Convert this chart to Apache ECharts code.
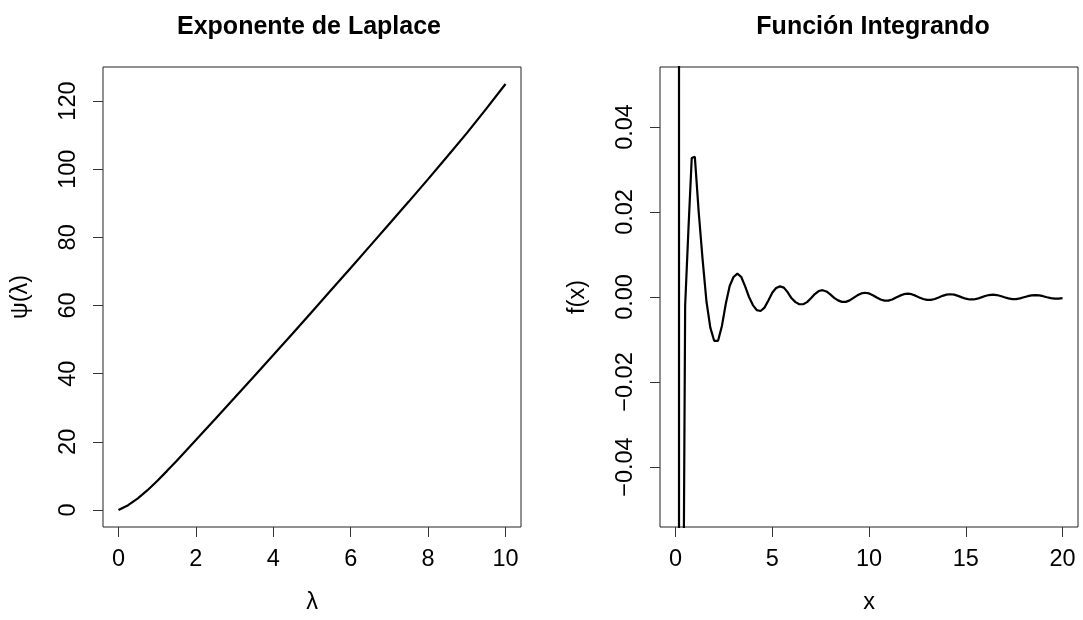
<!DOCTYPE html>
<html>
<head>
<meta charset="utf-8">
<script src="https://cdn.jsdelivr.net/npm/echarts@6/dist/echarts.min.js"></script>
<style>
  html, body { margin: 0; padding: 0; background: #ffffff; }
  #chart { width: 1083px; height: 620px; }
</style>
</head>
<body>
<div id="chart"></div>
<script>
// Laplace exponent psi(lambda)
const lambdaValues = [0, 0.25, 0.5, 0.75, 1, 1.25, 1.5, 2, 2.5, 3, 3.5, 4, 4.5, 5, 5.5, 6, 6.5, 7, 7.5, 8, 8.5, 9, 9.5, 10];
const psiValues    = [0, 1.4, 3.4, 5.8, 8.5, 11.4, 14.4, 20.5, 26.7, 32.9, 39.2, 45.5, 51.8, 58.2, 64.6, 71.0, 77.5, 84.0, 90.5, 97.1, 103.8, 110.6, 117.7, 125.0];

// Integrand f(x)
const xValues = [0.18, 0.185, 0.34, 0.5, 0.67, 0.84, 1.0,
  1.2, 1.4, 1.6, 1.8, 2.0, 2.2, 2.4, 2.6, 2.8, 3.0, 3.2, 3.4, 3.6, 3.8, 4.0,
  4.2, 4.4, 4.6, 4.8, 5.0, 5.2, 5.4, 5.6, 5.8, 6.0, 6.2, 6.4, 6.6, 6.8, 7.0,
  7.2, 7.4, 7.6, 7.8, 8.0, 8.2, 8.4, 8.6, 8.8, 9.0, 9.2, 9.4, 9.6, 9.8, 10.0,
  10.2, 10.4, 10.6, 10.8, 11.0, 11.2, 11.4, 11.6, 11.8, 12.0, 12.2, 12.4, 12.6, 12.8, 13.0,
  13.2, 13.4, 13.6, 13.8, 14.0, 14.2, 14.4, 14.6, 14.8, 15.0, 15.2, 15.4, 15.6, 15.8, 16.0,
  16.2, 16.4, 16.6, 16.8, 17.0, 17.2, 17.4, 17.6, 17.8, 18.0, 18.2, 18.4, 18.6, 18.8, 19.0,
  19.2, 19.4, 19.6, 19.8, 20.0];
const fValues = [0.6, -0.6, -0.13, -0.002, 0.016, 0.0327, 0.0330,
  0.0200, 0.0089, -0.0010, -0.0072, -0.0103, -0.0103, -0.0068, -0.0016, 0.0026, 0.0047, 0.0055, 0.0047, 0.0025, 0.0000, -0.0019,
  -0.0031, -0.0033, -0.0025, -0.0008, 0.0010, 0.0021, 0.0025, 0.0022, 0.0011, -0.0003, -0.0012, -0.0017, -0.0017, -0.0012, -0.0003,
  0.0007, 0.0014, 0.0016, 0.0013, 0.0006, -0.0002, -0.0008, -0.00115, -0.00115, -0.0008, -0.0002, 0.0004, 0.00084, 0.0010, 0.00084,
  0.0004, -0.00013, -0.0006, -0.00086, -0.00086, -0.0006, -0.00013, 0.00032, 0.00066, 0.00078, 0.00066, 0.00032, -0.0001, -0.00046, -0.00067,
  -0.00067, -0.00046, -0.0001, 0.00027, 0.00055, 0.00065, 0.00055, 0.00027, -0.00009, -0.0004, -0.00058, -0.00058, -0.0004, -0.00009, 0.00023,
  0.00046, 0.00055, 0.00046, 0.00023, -0.00007, -0.00033, -0.00048, -0.00048, -0.00033, -0.00007, 0.00019, 0.00038, 0.00045, 0.00038, 0.00019,
  -0.00006, -0.00026, -0.00038, -0.00038, -0.00026, -0.0001];

// Tick positions
const lambdaTicks = [0, 2, 4, 6, 8, 10];
const psiTicks = [0, 20, 40, 60, 80, 100, 120];
const xTicks = [0, 5, 10, 15, 20];
const fTicks = [-0.04, -0.02, 0, 0.02, 0.04];

const FONT = '"Liberation Sans", Arial, Helvetica, sans-serif';
const INK = '#000000';
const TICK_SIZE = 23.5;

function pairs(xs, ys) { return xs.map((x, i) => [x, ys[i]]); }

function fmtSigned(v) {
  if (Math.abs(v) < 1e-12) return '0.00';
  return (v < 0 ? '\u2212' : '') + Math.abs(v).toFixed(2);
}

function xAxisOf(gridIndex, min, max, ticks, name) {
  return {
    type: 'value', gridIndex, min, max,
    axisLine: { show: false, onZero: false },
    splitLine: { show: false },
    axisTick: { show: true, inside: false, length: 10, customValues: ticks, lineStyle: { color: '#333', width: 1 } },
    axisLabel: { customValues: ticks, margin: 21, color: INK, fontFamily: FONT, fontSize: TICK_SIZE },
    name, nameLocation: 'middle', nameGap: 64,
    nameTextStyle: { color: INK, fontFamily: FONT, fontSize: TICK_SIZE }
  };
}

function yAxisOf(gridIndex, min, max, ticks, name, fmt) {
  return {
    type: 'value', gridIndex, min, max,
    axisLine: { show: false, onZero: false },
    splitLine: { show: false },
    axisTick: { show: true, inside: false, length: 10, customValues: ticks, lineStyle: { color: '#333', width: 1 } },
    axisLabel: { customValues: ticks, margin: 22, rotate: 90, color: INK, fontFamily: FONT, fontSize: TICK_SIZE,
                 formatter: fmt || (v => String(v)) },
    name, nameLocation: 'middle', nameGap: 70,
    nameTextStyle: { color: INK, fontFamily: FONT, fontSize: TICK_SIZE }
  };
}

const chart = echarts.init(document.getElementById('chart'), null, { renderer: 'canvas' });
chart.setOption({
  animation: false,
  backgroundColor: '#ffffff',
  title: [
    { text: 'Exponente de Laplace', left: 304, top: 10, textAlign: 'center',
      textStyle: { fontFamily: FONT, fontSize: 25, fontWeight: 'bold', color: INK } },
    { text: 'Función Integrando', left: 868, top: 10, textAlign: 'center',
      textStyle: { fontFamily: FONT, fontSize: 25, fontWeight: 'bold', color: INK } }
  ],
  grid: [
    { left: 103, top: 67, width: 418, height: 463, show: true, borderColor: '#222', borderWidth: 1, backgroundColor: 'transparent' },
    { left: 660, top: 67, width: 418, height: 463, show: true, borderColor: '#222', borderWidth: 1, backgroundColor: 'transparent' }
  ],
  xAxis: [
    xAxisOf(0, -0.4, 10.4, lambdaTicks, 'λ'),
    xAxisOf(1, -0.8, 20.8, xTicks, 'x')
  ],
  yAxis: [
    yAxisOf(0, -5, 130, psiTicks, 'ψ(λ)'),
    yAxisOf(1, -0.0541, 0.0541, fTicks, 'f(x)', fmtSigned)
  ],
  series: [
    { type: 'line', xAxisIndex: 0, yAxisIndex: 0, data: pairs(lambdaValues, psiValues),
      showSymbol: false, clip: true, lineStyle: { color: INK, width: 2.2 } },
    { type: 'line', xAxisIndex: 1, yAxisIndex: 1, data: pairs(xValues, fValues),
      showSymbol: false, clip: true, lineStyle: { color: INK, width: 2.2 } }
  ]
});
</script>
</body>
</html>
